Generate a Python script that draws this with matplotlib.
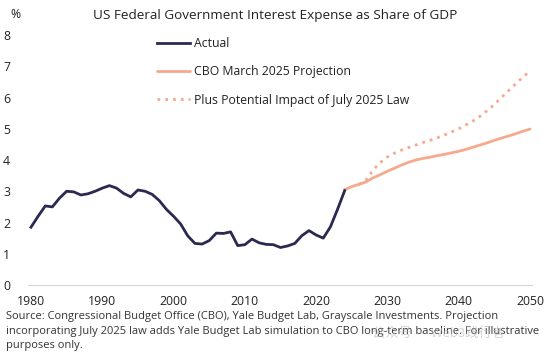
import matplotlib
matplotlib.use("Agg")
import matplotlib.pyplot as plt

# ── Data ──────────────────────────────────────────────────────────────────────
actual_years = list(range(1980, 2025))
actual_pct = [1.85, 2.2, 2.53, 2.5, 2.78, 3.0, 2.98, 2.88, 2.92, 3.0, 3.1, 3.18, 3.1,
              2.93, 2.82, 3.04, 3.0, 2.9, 2.7, 2.42, 2.2, 1.95, 1.57, 1.33, 1.31,
              1.42, 1.66, 1.65, 1.7, 1.26, 1.29, 1.47, 1.35, 1.3, 1.29, 1.2, 1.25,
              1.33, 1.58, 1.74, 1.6, 1.5, 1.86, 2.42, 3.02]

proj_years = list(range(2024, 2051))
cbo_pct = [3.05, 3.15, 3.22, 3.30, 3.43, 3.53, 3.64, 3.74, 3.84, 3.93, 4.00, 4.05,
           4.09, 4.14, 4.18, 4.23, 4.28, 4.34, 4.41, 4.48, 4.55, 4.63, 4.70, 4.77,
           4.84, 4.92, 4.99]

law_years = list(range(2026, 2051))
law_pct = [3.22, 3.36, 3.68, 3.92, 4.10, 4.22, 4.32, 4.40, 4.48, 4.56, 4.63, 4.71,
           4.80, 4.90, 5.00, 5.12, 5.25, 5.40, 5.58, 5.78, 6.00, 6.22, 6.44, 6.65,
           6.85]

x_ticks = [1980, 1990, 2000, 2010, 2020, 2030, 2040, 2050]
y_ticks = list(range(0, 9))

title = "US Federal Government Interest Expense as Share of GDP"
source = ("Source: Congressional Budget Office (CBO), Yale Budget Lab, Grayscale Investments. Projection\n"
          "incorporating July 2025 law adds Yale Budget Lab simulation to CBO long-term baseline. For illustrative\n"
          "purposes only.")

NAVY = "#2b2950"
SALMON = "#f6a98d"
TXT = "#222222"

plt.rcParams["font.family"] = ["Open Sans", "DejaVu Sans"]

fig = plt.figure(figsize=(5.53, 3.57), dpi=100, facecolor="white")
ax = fig.add_axes([28 / 553, 72 / 357, 504 / 553, 250 / 357])

ax.plot(actual_years, actual_pct, color=NAVY, lw=2.0, label="Actual",
        solid_joinstyle="round", zorder=3)
ax.plot(proj_years, cbo_pct, color=SALMON, lw=2.0, label="CBO March 2025 Projection",
        solid_capstyle="round", zorder=2)
ax.plot(law_years, law_pct, color=SALMON, lw=2.0, ls=(0, (1, 1.8)),
        label="Plus Potential Impact of July 2025 Law", zorder=2)

ax.set_xlim(1979.58, 2050.28)
ax.set_ylim(0, 8)
ax.set_xticks(x_ticks)
ax.set_yticks(y_ticks)
ax.tick_params(length=0, labelsize=8.8, colors=TXT)
ax.tick_params(axis="x", pad=7)
for lab in ax.get_yticklabels():
    lab.set_horizontalalignment("left")
ax.yaxis.set_tick_params(pad=18)

for s in ["top", "right", "left"]:
    ax.spines[s].set_visible(False)
ax.spines["bottom"].set_color("#d6d6d6")
ax.spines["bottom"].set_linewidth(0.8)

leg = ax.legend(loc="upper left", bbox_to_anchor=(157 / 553, 1 - 37 / 357),
                bbox_transform=fig.transFigure, frameon=False, fontsize=8.8,
                handlelength=2.7, handletextpad=0.3, labelspacing=1.25,
                borderaxespad=0, borderpad=0)
for t in leg.get_texts():
    t.set_color(TXT)

fig.text(93 / 553, 1 - 15 / 357, title, fontsize=9.7, color=TXT, va="center", ha="left")
fig.text(10 / 553, 1 - 14 / 357, "%", fontsize=8.8, color=TXT, va="center", ha="left")
fig.text(6 / 553, 1 - 311 / 357, source, fontsize=8.0, color="#333333",
         va="top", ha="left", linespacing=1.45)

# faint social-media watermark present in the reference
fig.text(372 / 553, 1 - 334 / 357, "公众号 · Web3践行者", fontsize=9.5, color="#b8b8b8",
         alpha=0.6, va="center", ha="left",
         family=["Noto Sans CJK SC", "DejaVu Sans"])

fig.savefig("out.png", dpi=100, facecolor="white")
